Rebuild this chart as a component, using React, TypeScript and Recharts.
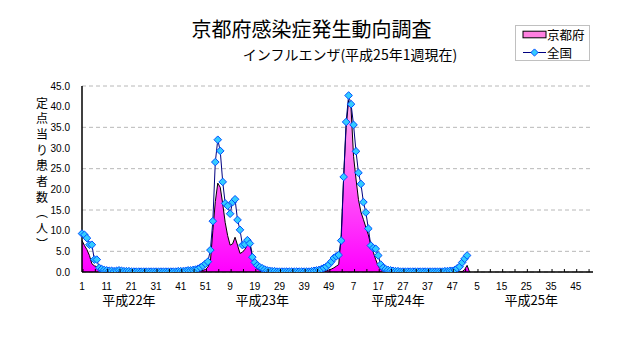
import React from 'react';
import {
  ComposedChart,
  Area,
  Line,
  XAxis,
  YAxis,
  CartesianGrid,
  ReferenceLine,
  Legend,
} from 'recharts';

// ---- data ----
const years = [22, 23, 24, 25];
const weeksPerYear = 52;
const categories: string[] = years.flatMap((y) =>
  Array.from({ length: weeksPerYear }, (_, k) => `${y}-${k + 1}`)
);

// 全国 (national), weekly values from 平成22年第1週 to 平成25年第1週
const zenkoku: number[] = [
  9.3, 9.0, 8.2, 6.6, 6.6, 3.0, 3.0, 1.0, 0.7, 0.5,
  0.4, 0.3, 0.3, 0.2, 0.3, 0.4, 0.3, 0.2, 0.2, 0.2,
  0.1, 0.1, 0.1, 0.1, 0.1, 0.1, 0.1, 0.1, 0.1, 0.1,
  0.1, 0.1, 0.1, 0.1, 0.1, 0.1, 0.1, 0.1, 0.1, 0.2,
  0.2, 0.2, 0.3, 0.4, 0.4, 0.5, 0.6, 0.8, 1.1, 1.5,
  2.0, 2.5, 5.3, 12.3, 26.6, 32.0, 29.3, 21.8, 16.6, 16.0,
  14.1, 16.9, 17.6, 12.6, 10.2, 6.5, 6.7, 7.7, 6.9, 3.6,
  2.3, 1.6, 1.2, 0.9, 0.6, 0.4, 0.3, 0.2, 0.2, 0.1,
  0.1, 0.1, 0.1, 0.1, 0.1, 0.1, 0.1, 0.1, 0.1, 0.1,
  0.1, 0.1, 0.1, 0.2, 0.3, 0.4, 0.5, 0.7, 1.0, 1.3,
  1.8, 2.5, 3.4, 3.8, 4.1, 7.6, 23.0, 36.3, 42.7, 40.6,
  35.6, 29.2, 24.0, 21.3, 16.9, 14.4, 10.5, 6.4, 5.8, 5.6,
  4.0, 1.8, 1.0, 0.7, 0.5, 0.4, 0.3, 0.2, 0.2, 0.1,
  0.1, 0.1, 0.1, 0.1, 0.1, 0.1, 0.1, 0.1, 0.1, 0.1,
  0.1, 0.1, 0.1, 0.1, 0.1, 0.1, 0.1, 0.2, 0.2, 0.3,
  0.3, 0.5, 0.9, 1.3, 2.3, 3.2, 4.0,
];

// 京都府 (Kyoto)
const kyoto: number[] = [
  7.6, 6.4, 5.4, 4.0, 2.0, 1.5, 1.3, 1.1, 0.5, 0.3,
  0.2, 0.1, 0.1, 0.1, 0.1, 0.1, 0.1, 0.0, 0.0, 0.0,
  0.0, 0.0, 0.0, 0.0, 0.0, 0.0, 0.0, 0.0, 0.0, 0.0,
  0.0, 0.0, 0.0, 0.0, 0.0, 0.0, 0.0, 0.0, 0.0, 0.0,
  0.0, 0.0, 0.0, 0.1, 0.1, 0.1, 0.2, 0.2, 0.3, 0.4,
  0.6, 1.2, 2.5, 10.0, 17.0, 21.5, 20.5, 16.5, 12.0, 8.8,
  6.5, 6.8, 8.4, 6.5, 4.5, 4.8, 5.5, 6.5, 7.2, 4.0,
  1.5, 0.7, 0.4, 0.2, 0.1, 0.1, 0.0, 0.0, 0.0, 0.0,
  0.0, 0.0, 0.0, 0.0, 0.0, 0.0, 0.0, 0.0, 0.0, 0.0,
  0.0, 0.0, 0.0, 0.0, 0.0, 0.1, 0.1, 0.1, 0.2, 0.3,
  0.5, 0.7, 1.0, 1.4, 1.8, 9.0, 23.0, 35.0, 41.5, 39.5,
  28.0, 22.5, 17.5, 14.5, 12.7, 10.8, 9.0, 6.5, 4.8, 3.0,
  1.4, 0.6, 0.3, 0.1, 0.1, 0.0, 0.0, 0.0, 0.0, 0.0,
  0.0, 0.0, 0.0, 0.0, 0.0, 0.0, 0.0, 0.0, 0.0, 0.0,
  0.0, 0.0, 0.0, 0.0, 0.0, 0.0, 0.0, 0.0, 0.0, 0.0,
  0.0, 0.0, 0.0, 0.0, 0.1, 0.6, 1.6, 0.0,
];

const yTicks = [0, 5, 10, 15, 20, 25, 30, 35, 40, 45];

const yearLabels = [
  { cat: '22-20', label: '平成22年' },
  { cat: '23-22', label: '平成23年' },
  { cat: '24-25', label: '平成24年' },
  { cat: '25-27', label: '平成25年' },
];

const title = '京都府感染症発生動向調査';
const subtitle = 'インフルエンザ(平成25年1週現在)';
const yAxisLabel = '定点当り患者数（人）';

const seriesNames = { kyoto: '京都府', zenkoku: '全国' };

const tableData = categories.map((cat, i) => ({
  cat,
  week: Number(cat.split('-')[1]),
  kyoto: i < kyoto.length ? kyoto[i] : null,
  zenkoku: i < zenkoku.length ? zenkoku[i] : null,
}));

const catIndex: Record<string, number> = {};
categories.forEach((c, i) => (catIndex[c] = i));

// ---- styles ----
const CJK = "'Noto Sans CJK JP', 'Noto Sans', sans-serif";
const NUM = "'Liberation Sans', Arial, sans-serif";
const LINE_COLOR = '#000080';
const DOT_FILL = '#33CCFF';
const DOT_STROKE = '#0050FF';

const Diamond = (props: any) => {
  const { cx, cy, index } = props;
  if (cx == null || cy == null || Number.isNaN(cx) || Number.isNaN(cy)) {
    return <g key={`d-${index}`} />;
  }
  const r = 3.8;
  return (
    <polygon
      key={`d-${index}`}
      points={`${cx},${cy - r} ${cx + r},${cy} ${cx},${cy + r} ${cx - r},${cy}`}
      fill={DOT_FILL}
      stroke={DOT_STROKE}
      strokeWidth={1}
    />
  );
};

const XTick = (props: any) => {
  const { x, y, payload } = props;
  const idx = catIndex[payload.value];
  const week = String(payload.value).split('-')[1];
  return (
    <g>
      <line x1={x + 1} x2={x + 1} y1={y} y2={y - 3} stroke="#000" strokeWidth={1} />
      {idx % 10 === 0 && (
        <text
          x={x}
          y={y + 17.5}
          textAnchor="middle"
          fontSize={10}
          fontFamily={NUM}
          fill="#000"
        >
          {week}
        </text>
      )}
    </g>
  );
};

const renderLegend = (props: any) => {
  const payload: any[] = (props.payload || []).slice();
  payload.sort((a, b) => (a.dataKey === 'kyoto' ? -1 : b.dataKey === 'kyoto' ? 1 : 0));
  return (
    <div
      style={{
        border: '1px solid #C0C0C0',
        background: '#fff',
        width: 73,
        height: 34,
        position: 'relative',
      }}
    >
      {payload.map((p, i) => {
        const top = i === 0 ? 0 : 18;
        return (
          <div
            key={p.dataKey}
            style={{
              position: 'absolute',
              left: 0,
              top,
              height: 17,
              display: 'flex',
              alignItems: 'center',
              whiteSpace: 'nowrap',
            }}
          >
            <svg width={31} height={17} style={{ display: 'block', flex: 'none' }}>
              {p.dataKey === 'kyoto' ? (
                <rect x={7} y={5.2} width={23} height={6.6} fill="#FF80E0" stroke="#000" strokeWidth={1} />
              ) : (
                <g>
                  <line x1={7} x2={30} y1={8.5} y2={8.5} stroke={LINE_COLOR} strokeWidth={1} />
                  <polygon
                    points="18.5,4.9 22.1,8.5 18.5,12.1 14.9,8.5"
                    fill={DOT_FILL}
                    stroke={DOT_STROKE}
                    strokeWidth={1}
                  />
                </g>
              )}
            </svg>
            <span style={{ fontFamily: CJK, fontSize: 12.5, lineHeight: '17px', color: '#000' }}>
              {p.value}
            </span>
          </div>
        );
      })}
    </div>
  );
};

export default function App() {
  const yChars = Array.from(yAxisLabel).map((ch) =>
    ch === '（' ? '︵' : ch === '）' ? '︶' : ch
  );
  return (
    <div style={{ position: 'absolute', left: 0, top: 0, width: 632, height: 348, background: '#fff' }}>
      <ComposedChart
        width={632}
        height={348}
        data={tableData}
        margin={{ top: 86, right: 39, left: 42, bottom: 36 }}
      >
        <defs>
          <linearGradient id="kyotoFill" x1="0" y1="0" x2="0" y2="1">
            <stop offset="0%" stopColor="#FFB0F0" />
            <stop offset="100%" stopColor="#FF00FF" />
          </linearGradient>
        </defs>
        <CartesianGrid
          horizontal
          vertical={false}
          stroke="#B8B8B8"
          strokeDasharray="4 3"
        />
        <XAxis
          dataKey="cat"
          scale="point"
          interval={4}
          height={40}
          tickSize={0}
          tickMargin={0}
          tickLine={false}
          axisLine={{ stroke: '#000', strokeWidth: 1.5 }}
          tick={<XTick />}
        />
        <YAxis
          domain={[0, 45]}
          ticks={yTicks}
          width={40}
          tickSize={0}
          tickMargin={12}
          tickLine={false}
          axisLine={{ stroke: '#000', strokeWidth: 1.5 }}
          tickFormatter={(v: number) => v.toFixed(1)}
          tick={{ fontSize: 10, fontFamily: NUM, fill: '#000' }}
          allowDataOverflow
        />
        <Legend
          layout="vertical"
          align="center"
          verticalAlign="middle"
          wrapperStyle={{ left: 515, top: 25, width: 75, height: 36 }}
          content={renderLegend}
        />
        <Area
          type="linear"
          dataKey="kyoto"
          name={seriesNames.kyoto}
          stroke="#000"
          strokeWidth={1}
          fill="url(#kyotoFill)"
          fillOpacity={1}
          dot={false}
          activeDot={false}
          isAnimationActive={false}
        />
        <Line
          type="linear"
          dataKey="zenkoku"
          name={seriesNames.zenkoku}
          stroke={LINE_COLOR}
          strokeWidth={1}
          dot={Diamond}
          activeDot={false}
          isAnimationActive={false}
        />
        {yearLabels.map((yl) => (
          <ReferenceLine
            key={yl.cat}
            x={yl.cat}
            stroke="none"
            label={{
              value: yl.label,
              position: 'bottom',
              offset: 24,
              fill: '#000',
              fontSize: 13,
              fontFamily: CJK,
            }}
          />
        ))}
      </ComposedChart>
      <svg
        width={632}
        height={348}
        style={{ position: 'absolute', left: 0, top: 0, pointerEvents: 'none' }}
      >
        <text x={311.5} y={28.5} textAnchor="middle" dominantBaseline="central" fontSize={20} fontFamily={CJK} fill="#000">
          {title}
        </text>
        <text x={350} y={53.5} textAnchor="middle" dominantBaseline="central" fontSize={14} fontFamily={CJK} fill="#000">
          {subtitle}
        </text>
        {yChars.map((ch, i) => (
          <text
            key={i}
            x={42}
            y={102 + i * 15.7}
            textAnchor="middle"
            dominantBaseline="central"
            fontSize={12}
            fontFamily={CJK}
            fill="#000"
          >
            {ch}
          </text>
        ))}
      </svg>
    </div>
  );
}
